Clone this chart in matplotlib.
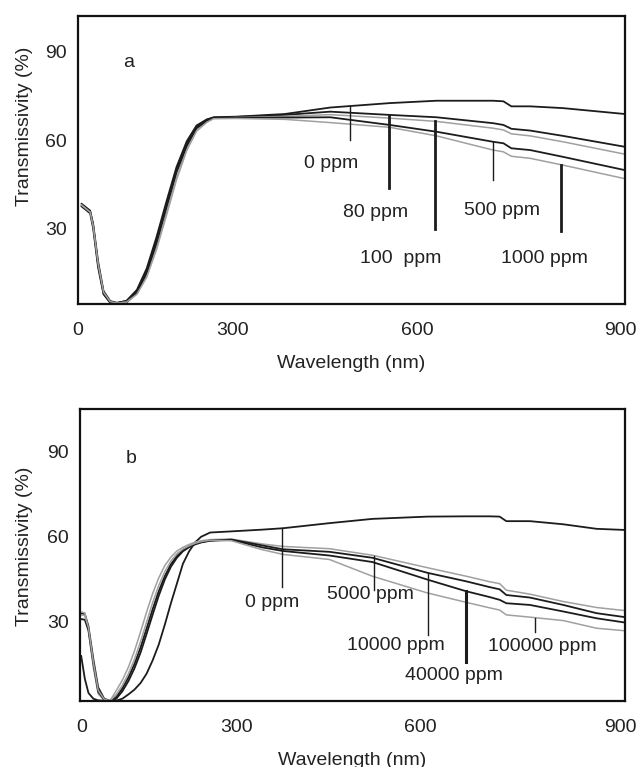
import matplotlib
matplotlib.use("Agg")
import matplotlib.pyplot as plt
import numpy as np

plt.rcParams['font.family'] = ['Liberation Sans', 'DejaVu Sans']
plt.rcParams['text.color'] = '#222222'
plt.rcParams['axes.labelcolor'] = '#222222'
plt.rcParams['xtick.color'] = '#222222'
plt.rcParams['ytick.color'] = '#222222'

DARK = '#1c1c1c'
GRAY = '#a0a0a0'

# ---- panel a data (wavelength nm, transmissivity %) ----
wl_a = [6, 20, 25, 33, 42, 53, 64, 80, 97, 113, 129, 146, 162, 179, 195, 212, 223,
        260, 340, 415, 513, 590, 683, 700, 713, 744, 798, 900]
a_0ppm = [38.4, 36.1, 31.6, 19.0, 8.9, 5.5, 4.9, 5.5, 8.9, 15.7, 25.9, 38.4, 49.8, 58.9, 64.5, 66.8, 67.7,
          67.9, 68.8, 71.0, 72.5, 73.3, 73.3, 73.1, 71.4, 71.4, 70.8, 68.8]
a_80ppm = [37.8, 35.8, 31.0, 18.0, 8.2, 5.2, 4.8, 5.6, 9.3, 16.5, 27.0, 39.5, 50.8, 59.6, 64.9, 67.0, 67.6,
           67.8, 68.5, 69.6, 68.5, 67.7, 65.7, 65.1, 63.8, 63.2, 61.4, 57.7]
a_100ppm = [38.0, 35.5, 30.5, 17.5, 8.0, 5.0, 4.7, 5.2, 8.0, 14.0, 23.5, 35.5, 47.0, 56.8, 63.2, 66.3, 67.4,
            67.6, 68.0, 68.6, 67.4, 66.3, 64.0, 63.4, 62.1, 61.4, 59.4, 55.2]
a_500ppm = [37.5, 35.2, 30.0, 17.0, 7.8, 4.9, 4.6, 5.0, 8.3, 15.0, 25.0, 37.5, 49.0, 58.0, 64.0, 66.5, 67.5,
            67.5, 67.6, 67.7, 65.1, 62.8, 59.4, 58.9, 57.2, 56.6, 54.3, 49.8]
a_1000ppm = [37.9, 35.6, 30.8, 18.2, 8.5, 5.3, 4.8, 5.1, 7.8, 13.5, 22.8, 34.8, 46.5, 56.5, 63.0, 66.0, 67.2,
             67.3, 67.0, 65.9, 64.3, 61.4, 56.6, 56.0, 54.5, 53.8, 51.5, 46.9]

labels_a = ['0 ppm', '80 ppm', '100  ppm', '500 ppm', '1000 ppm']
series_a = [a_0ppm, a_80ppm, a_100ppm, a_500ppm, a_1000ppm]
colors_a = [DARK, DARK, GRAY, DARK, GRAY]
marker_wl_a = [447, 512, 588, 682, 794]
marker_end_a = [60.0, 43.6, 29.9, 46.6, 29.3]
marker_lw_a = [1.0, 2.0, 2.0, 1.0, 2.0]
text_pos_a = [(416, 52.2), (490, 35.5), (531, 19.8), (697, 36.1), (768, 19.8)]

# ---- panel b data ----
wl_b = [2, 8, 14, 22, 30, 40, 50, 60, 70, 80, 90, 100, 110, 120, 130, 140, 150, 160, 170, 180,
        190, 200, 215, 250, 300, 335, 412, 483, 574, 638, 676, 693, 704, 743, 798, 853, 900]
b_0ppm = [33.0, 32.8, 28.5, 17.0, 7.0, 3.0, 2.2, 2.3, 3.0, 4.5, 6.2, 8.5, 11.8, 16.5, 22.0, 29.0, 36.5, 43.5, 50.5, 54.8,
          58.0, 60.0, 61.5, 61.9, 62.5, 63.0, 64.8, 66.3, 67.1, 67.2, 67.2, 67.1, 65.5, 65.5, 64.4, 62.8, 62.4]
b_5000ppm = [33.5, 33.2, 27.0, 14.0, 4.7, 2.5, 2.4, 5.9, 9.5, 14.1, 19.8, 26.5, 33.5, 40.0, 45.5, 49.8, 52.8, 55.0, 56.3, 57.3,
             58.1, 58.6, 59.0, 59.2, 57.5, 56.6, 55.8, 53.5, 49.1, 46.1, 44.2, 43.5, 41.2, 39.8, 37.2, 35.1, 34.0]
b_10000ppm = [31.0, 30.8, 27.0, 15.5, 5.5, 2.6, 2.2, 3.6, 6.6, 10.5, 15.2, 21.0, 27.7, 34.5, 40.8, 46.1, 50.3, 53.2, 55.3, 56.6,
              57.5, 58.1, 58.7, 59.0, 57.0, 55.6, 54.7, 52.6, 47.3, 44.3, 42.3, 41.5, 39.5, 38.6, 36.0, 33.1, 31.7]
b_40000ppm = [18.0, 10.0, 5.0, 3.0, 2.4, 2.3, 2.2, 3.0, 5.6, 9.2, 13.7, 19.2, 25.8, 32.6, 39.2, 44.9, 49.4, 52.6, 54.9, 56.3,
              57.3, 58.0, 58.6, 58.9, 56.3, 55.0, 53.4, 51.1, 44.9, 40.8, 38.8, 37.8, 36.6, 36.0, 33.7, 31.3, 29.8]
b_100000ppm = [32.5, 32.3, 28.0, 16.0, 6.0, 2.8, 2.3, 4.5, 7.7, 11.8, 16.9, 23.1, 30.0, 36.8, 42.8, 47.7, 51.4, 54.0, 55.7, 56.8,
               57.7, 58.3, 58.8, 58.6, 55.5, 53.8, 52.0, 46.1, 40.2, 36.9, 35.0, 34.2, 32.5, 31.7, 30.5, 27.8, 26.9]

labels_b = ['0 ppm', '5000 ppm', '10000 ppm', '40000 ppm', '100000 ppm']
series_b = [b_0ppm, b_5000ppm, b_10000ppm, b_40000ppm, b_100000ppm]
colors_b = [DARK, GRAY, DARK, DARK, GRAY]
marker_wl_b = [334, 485, 574, 638, 751]
marker_end_b = [42.4, 41.4, 25.4, 15.8, 26.4]
marker_lw_b = [1.0, 1.0, 1.0, 2.2, 1.0]
text_pos_b = [(318, 36.8), (479, 39.6), (522, 21.8), (617, 11.2), (763, 21.2)]

# tick labels as they sit in the original (unevenly spaced)
xtick_labels = ['0', '300', '600', '900']
xtick_pos_a = [0, 255, 559, 893]
xtick_pos_b = [2, 258, 562, 893]


def draw_panel(ax, wl, series, colors, labels, mk_wl, mk_end, mk_lw, text_pos, tag, tag_pos, xt_pos):
    for vals, c in zip(series, colors):
        ax.plot(wl, vals, color=c, lw=1.3 if c == DARK else 1.1)
    for vals, x, y_end, lw in zip(series, mk_wl, mk_end, mk_lw):
        y_top = np.interp(x, wl, vals)
        ax.plot([x, x], [y_top, y_end], color=DARK, lw=lw)
    for lab, (x, y) in zip(labels, text_pos):
        ax.text(x, y, lab, ha='center', va='center', fontsize=14)
    ax.text(tag_pos[0], tag_pos[1], tag, ha='center', va='center', fontsize=14)
    ax.set_xlim(0, 900)
    ax.set_xticks(xt_pos)
    ax.set_xticklabels(xtick_labels)
    ax.set_yticks([30, 60, 90])
    ax.tick_params(length=0, labelsize=14)
    ax.tick_params(axis='x', pad=13)
    ax.tick_params(axis='y', pad=8)
    for s in ax.spines.values():
        s.set_linewidth(1.6)
        s.set_color('#111111')
    ax.set_xlabel('Wavelength (nm)', fontsize=14)
    ax.set_ylabel('Transmissivity (%)', fontsize=14)


fig = plt.figure(figsize=(6.44, 7.67), dpi=100)
ax_a = fig.add_axes([0.1211, 0.6037, 0.8494, 0.3755])
ax_b = fig.add_axes([0.1242, 0.0865, 0.8463, 0.3803])

draw_panel(ax_a, wl_a, series_a, colors_a, labels_a, marker_wl_a, marker_end_a,
           marker_lw_a, text_pos_a, 'a', (84, 86.3), xtick_pos_a)
ax_a.set_ylim(4.5, 102)
ax_a.xaxis.set_label_coords(0.5, -0.178)
ax_a.yaxis.set_label_coords(-0.082, 0.617)

draw_panel(ax_b, wl_b, series_b, colors_b, labels_b, marker_wl_b, marker_end_b,
           marker_lw_b, text_pos_b, 'b', (84, 87.5), xtick_pos_b)
ax_b.set_ylim(2.3, 105)
ax_b.xaxis.set_label_coords(0.5, -0.176)
ax_b.yaxis.set_label_coords(-0.086, 0.529)

fig.savefig('out.png', dpi=100)
